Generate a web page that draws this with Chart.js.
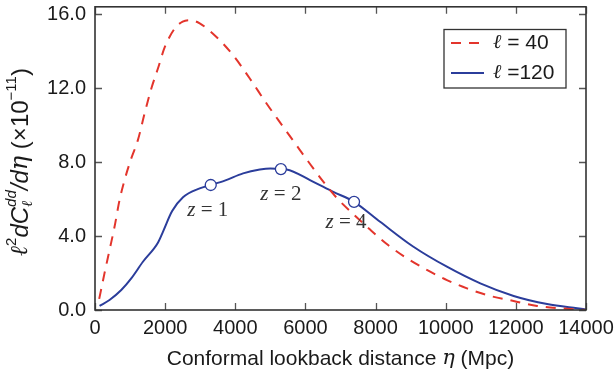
<!DOCTYPE html>
<html>
<head>
<meta charset="utf-8">
<script src="https://cdn.jsdelivr.net/npm/chart.js@4/dist/chart.umd.min.js"></script>
<style>
  html, body { margin: 0; padding: 0; background: #fff; }
  #wrap { width: 616px; height: 376px; }
</style>
</head>
<body>
<div id="wrap"><canvas id="c" width="616" height="376"></canvas></div>
<script>
// Lensing kernel per unit conformal distance, l = 40 (dashed) and l = 120 (solid)
const etaL40 = [120, 270, 414, 557, 700, 843, 1034, 1223, 1414, 1606, 1794, 1986, 2271, 2500, 2700,
                2986, 3463, 3937, 4414, 4891, 5366, 5843, 6034, 6509, 6900, 7386, 7843, 8366, 8891,
                9463, 10034, 10606, 11271, 11937, 12606, 13271, 14000];
const valL40 = [0.6, 1.98, 3.24, 4.5, 5.95, 7.03, 8.2, 9.19, 10.63, 11.98, 13.06, 14.2, 15.22, 15.6, 15.68,
                15.5, 14.77, 13.78, 12.52, 11.17, 9.91, 8.65, 8.15, 6.94, 6.05, 5.15, 4.35, 3.5, 2.8,
                2.17, 1.62, 1.17, 0.76, 0.49, 0.22, 0.09, 0.0];

const etaL120 = [130, 414, 749, 1034, 1366, 1794, 1937, 2200, 2509, 2986, 3300, 3700, 4223, 4700, 5000,
                 5300, 5463, 6129, 6794, 7386, 8129, 9080, 10034, 10986, 11937, 12891, 13749, 14000];
const valL120 = [0.22, 0.54, 1.08, 1.71, 2.61, 3.64, 4.23, 5.35, 6.1, 6.58, 6.76, 7.0, 7.39, 7.6, 7.66,
                 7.62, 7.6, 7.03, 6.39, 5.85, 4.77, 3.42, 2.34, 1.44, 0.76, 0.32, 0.09, 0.03];

// Redshift markers on the l = 120 curve
const zNames = ['1', '2', '4'];
const zEta = [3300, 5300, 7386];
const zVal = [6.76, 7.62, 5.85];

const xTickValues = [0, 2000, 4000, 6000, 8000, 10000, 12000, 14000];
const yTickValues = [0, 4, 8, 12, 16];
const seriesNames = ['40', '120'];

const RED = '#e3352c';
const BLUE = '#2b3d9b';
const SANS = "'Liberation Sans', Arial, sans-serif";
const SERIF = "'DejaVu Serif', serif";
const TIMES = "'Liberation Serif', 'Times New Roman', serif";

const toPoints = (xs, ys) => xs.map((x, i) => ({ x: x, y: ys[i] }));

function partWidth(ctx, p) {
  if (p.stack) {
    let wmax = 0;
    for (const s of p.stack) { ctx.font = s.font; wmax = Math.max(wmax, ctx.measureText(s.t).width); }
    return wmax;
  }
  ctx.font = p.font;
  return ctx.measureText(p.t).width;
}
function runWidth(ctx, parts) {
  return parts.reduce((w, p) => w + partWidth(ctx, p), 0);
}
// draw mixed-font text pieces one after another along the baseline
function drawRun(ctx, parts, x, y) {
  for (const p of parts) {
    if (p.stack) {
      for (const s of p.stack) { ctx.font = s.font; ctx.fillText(s.t, x, y + s.dy); }
    } else {
      ctx.font = p.font;
      ctx.fillText(p.t, x, y + (p.dy || 0));
    }
    x += partWidth(ctx, p);
  }
}

const framePlugin = {
  id: 'frame',
  afterDraw(chart) {
    const ctx = chart.ctx;
    const a = chart.chartArea;
    const xs = chart.scales.x, ys = chart.scales.y;
    ctx.save();
    // inward tick marks on all four sides
    ctx.strokeStyle = '#555';
    ctx.lineWidth = 1.3;
    const tl = 7;
    ctx.beginPath();
    for (const v of xTickValues) {
      const px = Math.round(xs.getPixelForValue(v)) + 0.5;
      ctx.moveTo(px, a.bottom); ctx.lineTo(px, a.bottom - tl);
      ctx.moveTo(px, a.top); ctx.lineTo(px, a.top + tl);
    }
    for (const v of yTickValues) {
      const py = Math.round(ys.getPixelForValue(v)) + 0.5;
      ctx.moveTo(a.left, py); ctx.lineTo(a.left + tl, py);
      ctx.moveTo(a.right, py); ctx.lineTo(a.right - tl, py);
    }
    ctx.stroke();
    // plot frame
    ctx.strokeStyle = '#333';
    ctx.lineWidth = 1.6;
    ctx.strokeRect(a.left, a.top, a.right - a.left, a.bottom - a.top);

    ctx.fillStyle = '#1a1a1a';
    ctx.textBaseline = 'middle';

    // x axis title
    const xt = [
      { t: 'Conformal lookback distance ', font: `21px ${SANS}` },
      { t: 'η', font: `italic 21px ${SERIF}` },
      { t: ' (Mpc)', font: `21px ${SANS}` }
    ];
    const xw = runWidth(ctx, xt);
    drawRun(ctx, xt, (a.left + a.right) / 2 - xw / 2, 359);

    // y axis title, rotated
    const big = 24, small = 15;
    const yt = [
      { t: 'ℓ', font: `italic ${big}px ${SERIF}` },
      { t: '2', font: `${small}px ${SANS}`, dy: -9 },
      { t: 'dC', font: `italic ${big}px ${SANS}` },
      { stack: [
          { t: 'dd', font: `italic ${small}px ${SANS}`, dy: -9 },
          { t: 'ℓ', font: `italic ${small}px ${SERIF}`, dy: 7 }
        ] },
      { t: '/', font: `italic ${big}px ${SANS}` },
      { t: 'd', font: `italic ${big}px ${SANS}` },
      { t: 'η', font: `italic ${big}px ${SERIF}` },
      { t: ' (×10', font: `${big}px ${SANS}` },
      { t: '−11', font: `${small}px ${SANS}`, dy: -9 },
      { t: ')', font: `${big}px ${SANS}` }
    ];
    const yw = runWidth(ctx, yt);
    ctx.translate(21, 162);
    ctx.rotate(-Math.PI / 2);
    drawRun(ctx, yt, -yw / 2, 0);
    ctx.restore();

    // redshift labels under the markers
    const meta = chart.getDatasetMeta(0);
    const offs = [[-3, 25], [0, 25], [-8, 21]];
    ctx.save();
    ctx.fillStyle = '#333';
    ctx.textBaseline = 'middle';
    meta.data.forEach((pt, i) => {
      const parts = [
        { t: 'z', font: `italic 21px ${TIMES}` },
        { t: ' = ' + zNames[i], font: `21px ${TIMES}` }
      ];
      const w = runWidth(ctx, parts);
      drawRun(ctx, parts, pt.x + offs[i][0] - w / 2, pt.y + offs[i][1]);
    });
    ctx.restore();

    // legend box
    ctx.save();
    ctx.fillStyle = '#fff';
    ctx.fillRect(444, 29.5, 122, 58.5);
    ctx.strokeStyle = '#333';
    ctx.lineWidth = 1.3;
    ctx.strokeRect(444, 29.5, 122, 58.5);
    const rows = [
      { color: RED, dash: [10, 8], y: 43, name: seriesNames[0], eq: ' = ' },
      { color: BLUE, dash: [], y: 73, name: seriesNames[1], eq: ' =' }
    ];
    for (const r of rows) {
      ctx.strokeStyle = r.color;
      ctx.lineWidth = 2;
      ctx.setLineDash(r.dash);
      ctx.beginPath();
      ctx.moveTo(451, r.y); ctx.lineTo(484, r.y);
      ctx.stroke();
      ctx.setLineDash([]);
      ctx.fillStyle = '#1a1a1a';
      ctx.textBaseline = 'middle';
      drawRun(ctx, [
        { t: 'ℓ', font: `italic 20px ${SERIF}` },
        { t: r.eq + r.name, font: `21px ${SANS}` }
      ], 493, r.y);
    }
    ctx.restore();
  }
};

new Chart(document.getElementById('c'), {
  type: 'line',
  data: {
    datasets: [
      {
        label: 'z markers',
        data: toPoints(zEta, zVal),
        showLine: false,
        pointRadius: 5.5,
        pointHoverRadius: 5.5,
        pointBackgroundColor: '#fff',
        pointBorderColor: BLUE,
        pointBorderWidth: 1.3,
        order: 0
      },
      {
        label: 'ℓ = ' + seriesNames[0],
        data: toPoints(etaL40, valL40),
        borderColor: RED,
        borderWidth: 2,
        borderDash: [10, 8],
        pointRadius: 0,
        cubicInterpolationMode: 'monotone',
        fill: false,
        order: 1
      },
      {
        label: 'ℓ =' + seriesNames[1],
        data: toPoints(etaL120, valL120),
        borderColor: BLUE,
        borderWidth: 2,
        pointRadius: 0,
        cubicInterpolationMode: 'monotone',
        fill: false,
        order: 2
      }
    ]
  },
  options: {
    responsive: false,
    animation: false,
    devicePixelRatio: 1,
    layout: { padding: { top: 6, right: 30, left: 0, bottom: 0 } },
    plugins: { legend: { display: false }, tooltip: { enabled: false } },
    scales: {
      x: {
        type: 'linear',
        min: 0, max: 14000,
        grid: { display: false, drawTicks: false },
        border: { display: false },
        afterBuildTicks: s => { s.ticks = xTickValues.map(v => ({ value: v })); },
        afterFit: s => { s.height = 66; s.paddingLeft = 0; s.paddingRight = 0; },
        ticks: {
          padding: 6,
          maxRotation: 0,
          autoSkip: false,
          color: '#1a1a1a',
          font: { family: SANS, size: 20 },
          callback: v => String(v)
        }
      },
      y: {
        type: 'linear',
        min: 0, max: 16.4,
        grid: { display: false, drawTicks: false },
        border: { display: false },
        afterBuildTicks: s => { s.ticks = yTickValues.map(v => ({ value: v })); },
        afterFit: s => { s.width = 95; s.paddingTop = 0; s.paddingBottom = 0; },
        ticks: {
          padding: 9,
          color: '#1a1a1a',
          font: { family: SANS, size: 20 },
          callback: v => Number(v).toFixed(1)
        }
      }
    }
  },
  plugins: [framePlugin]
});
</script>
</body>
</html>
